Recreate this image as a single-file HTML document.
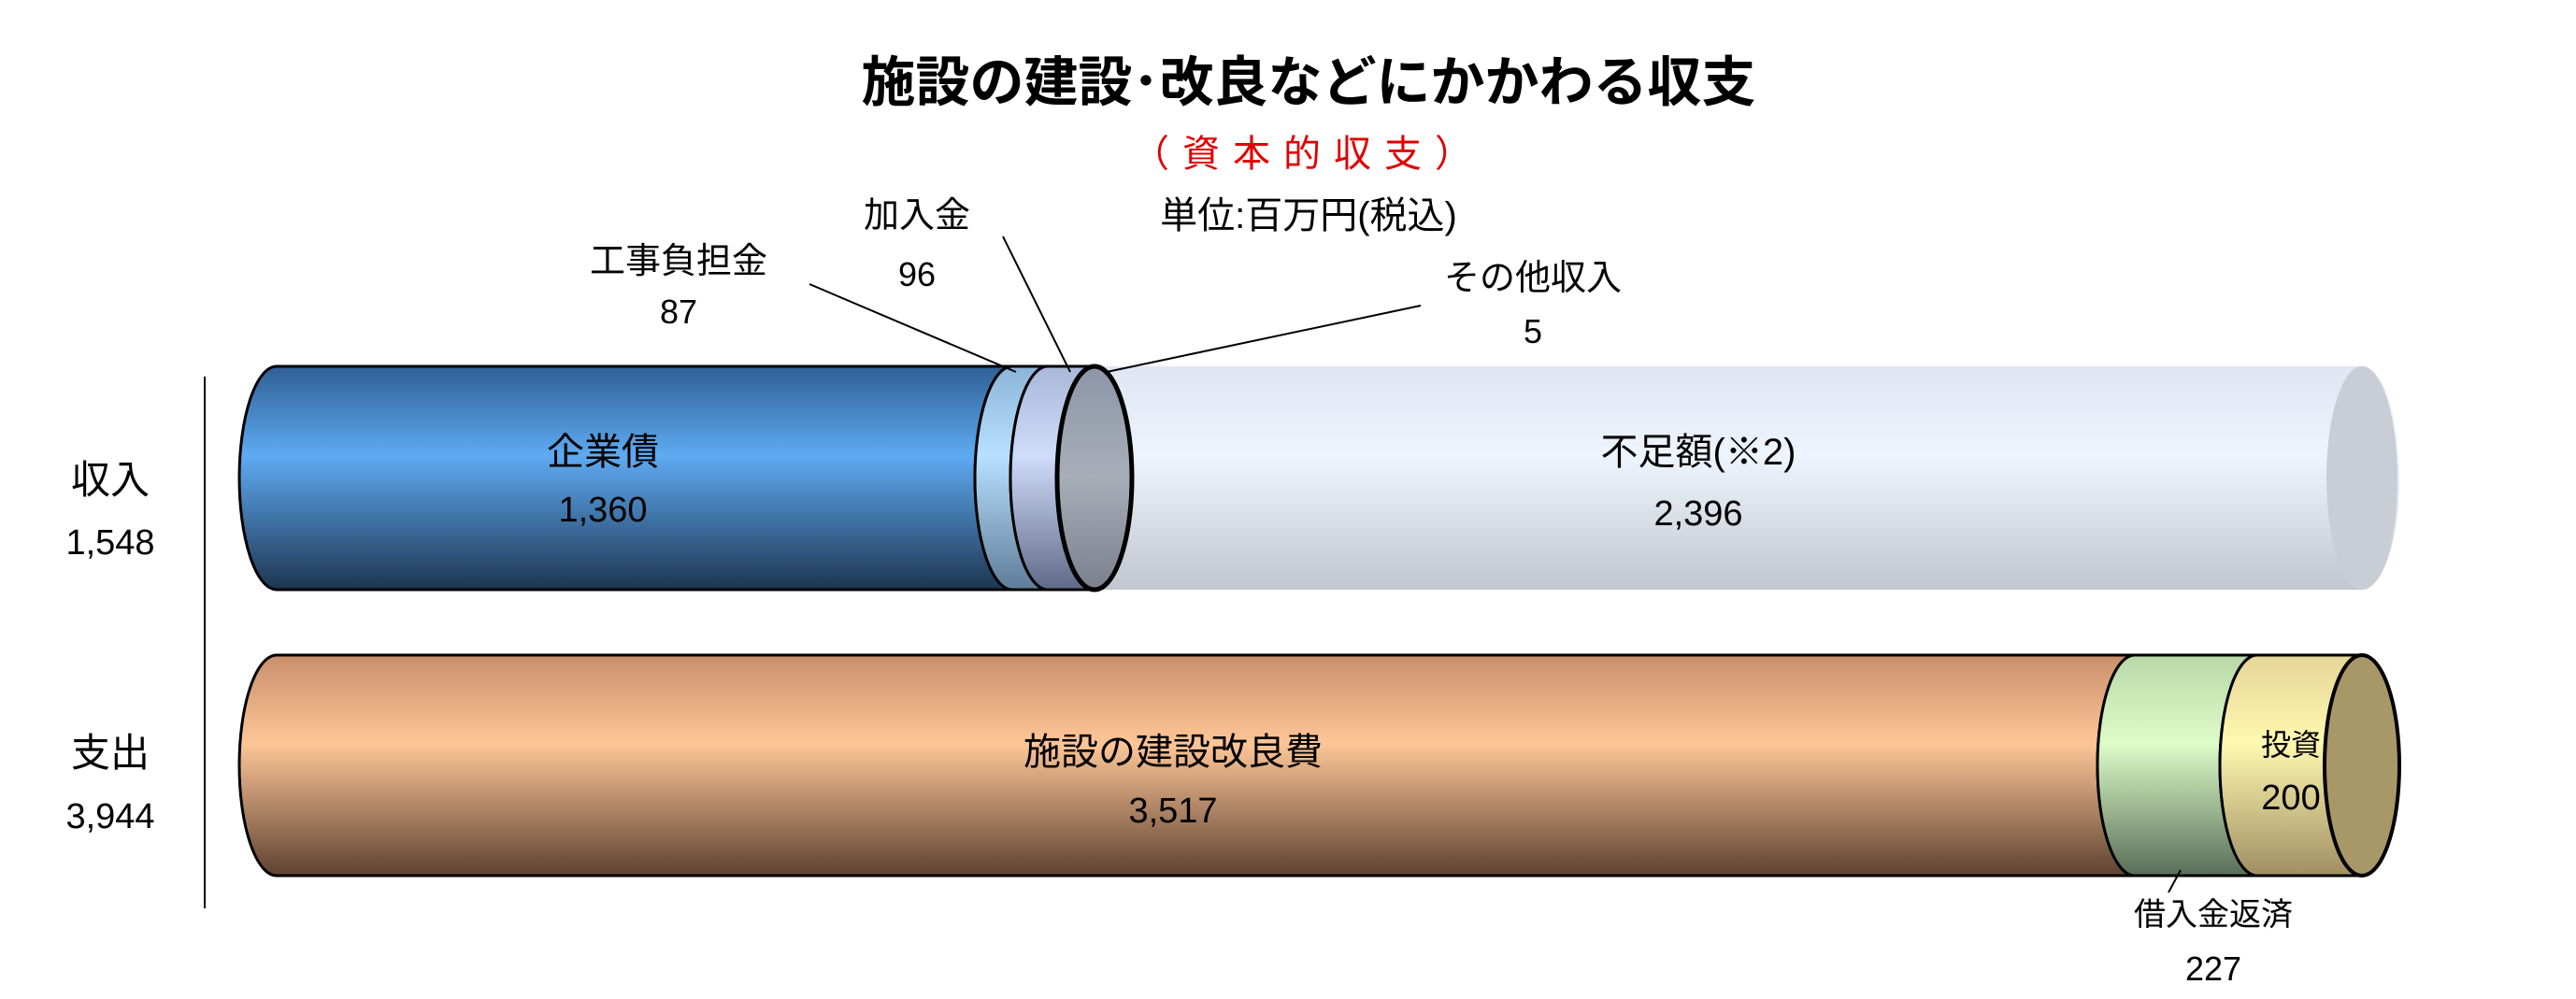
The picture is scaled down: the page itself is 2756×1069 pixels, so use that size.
<!DOCTYPE html>
<html><head><meta charset="utf-8"><style>
html,body{margin:0;padding:0;background:#fff;}
svg{display:block;}
text{font-family:"Liberation Sans","Noto Sans CJK JP",sans-serif;}
</style></head><body>
<svg width="2756" height="1069" viewBox="0 0 2756 1069" xmlns="http://www.w3.org/2000/svg">
<defs>
<linearGradient id="gBlue" x1="0" y1="0" x2="0" y2="1"><stop offset="0" stop-color="#2f5f94"/><stop offset="0.4" stop-color="#5eaaf2"/><stop offset="1" stop-color="#1d3550"/></linearGradient>
<linearGradient id="gLb" x1="0" y1="0" x2="0" y2="1"><stop offset="0" stop-color="#8cb4d8"/><stop offset="0.4" stop-color="#b8e0ff"/><stop offset="1" stop-color="#5f7c98"/></linearGradient>
<linearGradient id="gLav" x1="0" y1="0" x2="0" y2="1"><stop offset="0" stop-color="#a8b8d8"/><stop offset="0.4" stop-color="#cfdcfa"/><stop offset="1" stop-color="#5e6a88"/></linearGradient>
<linearGradient id="gGray" x1="0" y1="0" x2="0" y2="1"><stop offset="0" stop-color="#8c96a8"/><stop offset="0.5" stop-color="#a8aeb8"/><stop offset="1" stop-color="#7a808c"/></linearGradient>
<linearGradient id="gWhite" x1="0" y1="0" x2="0" y2="1"><stop offset="0" stop-color="#dfe6f2"/><stop offset="0.4" stop-color="#eef4fd"/><stop offset="1" stop-color="#c2c6ce"/></linearGradient>
<linearGradient id="gOr" x1="0" y1="0" x2="0" y2="1"><stop offset="0" stop-color="#c98f6c"/><stop offset="0.4" stop-color="#fec697"/><stop offset="1" stop-color="#5e4232"/></linearGradient>
<linearGradient id="gGr" x1="0" y1="0" x2="0" y2="1"><stop offset="0" stop-color="#b8d8a8"/><stop offset="0.4" stop-color="#ddfcc8"/><stop offset="1" stop-color="#586e58"/></linearGradient>
<linearGradient id="gYe" x1="0" y1="0" x2="0" y2="1"><stop offset="0" stop-color="#e6d598"/><stop offset="0.4" stop-color="#fff8b0"/><stop offset="1" stop-color="#a08e62"/></linearGradient>
</defs>

<text x="1400" y="108" font-size="58" font-weight="bold" text-anchor="middle" fill="#000">施設の建設･改良などにかかわる収支</text>
<text x="1400" y="178" font-size="40" text-anchor="middle" fill="#e00000" letter-spacing="14">（資本的収支）</text>
<text x="1400" y="244" font-size="40" text-anchor="middle" fill="#000">単位:百万円(税込)</text>

<line x1="219" y1="403" x2="219" y2="972" stroke="#000" stroke-width="2"/>
<text x="118" y="528" font-size="42" text-anchor="middle">収入</text>
<text x="118" y="593" font-size="38" text-anchor="middle">1,548</text>
<text x="118" y="820" font-size="42" text-anchor="middle">支出</text>
<text x="118" y="886" font-size="38" text-anchor="middle">3,944</text>

<g>
<path d="M1171,392 A40,119.5 0 0 0 1171,631 L2527,631 A40,119.5 0 0 0 2527,392 Z" fill="url(#gWhite)"/>
<ellipse cx="2527" cy="511.5" rx="38" ry="119.5" fill="#c9cdd6"/>
<path d="M296,392 A40,119.5 0 0 0 296,631 L1083,631 A40,119.5 0 0 1 1083,392 Z" fill="url(#gBlue)" stroke="#000" stroke-width="3"/>
<path d="M1083,392 A40,119.5 0 0 0 1083,631 L1121,631 A40,119.5 0 0 1 1121,392 Z" fill="url(#gLb)" stroke="#000" stroke-width="3"/>
<path d="M1121,392 A40,119.5 0 0 0 1121,631 L1171,631 A40,119.5 0 0 1 1171,392 Z" fill="url(#gLav)" stroke="#000" stroke-width="3"/>
<ellipse cx="1171" cy="511.5" rx="40" ry="119.5" fill="url(#gGray)" stroke="#000" stroke-width="5"/>
</g>
<text x="645" y="497" font-size="40" text-anchor="middle">企業債</text>
<text x="645" y="558" font-size="38" text-anchor="middle">1,360</text>
<text x="1817" y="497" font-size="40" text-anchor="middle">不足額(※2)</text>
<text x="1817" y="562" font-size="38" text-anchor="middle">2,396</text>

<g>
<path d="M296,701 A40,118 0 0 0 296,937 L2284,937 A40,118 0 0 1 2284,701 Z" fill="url(#gOr)" stroke="#000" stroke-width="3"/>
<path d="M2284,701 A40,118 0 0 0 2284,937 L2415,937 A40,118 0 0 1 2415,701 Z" fill="url(#gGr)" stroke="#000" stroke-width="3"/>
<path d="M2415,701 A40,118 0 0 0 2415,937 L2527,937 A40,118 0 0 1 2527,701 Z" fill="url(#gYe)" stroke="#000" stroke-width="3"/>
<ellipse cx="2527" cy="819" rx="40" ry="118" fill="#a89868" stroke="#000" stroke-width="4"/>
</g>
<text x="1255" y="818" font-size="40" text-anchor="middle">施設の建設改良費</text>
<text x="1255" y="880" font-size="38" text-anchor="middle">3,517</text>
<text x="2451" y="808" font-size="32" text-anchor="middle">投資</text>
<text x="2451" y="866" font-size="38" text-anchor="middle">200</text>

<text x="726" y="292" font-size="38" text-anchor="middle">工事負担金</text>
<text x="726" y="346" font-size="36" text-anchor="middle">87</text>
<line x1="866" y1="304" x2="1087" y2="398" stroke="#000" stroke-width="2"/>
<text x="981" y="243" font-size="38" text-anchor="middle">加入金</text>
<text x="981" y="306" font-size="36" text-anchor="middle">96</text>
<line x1="1073" y1="253" x2="1145" y2="398" stroke="#000" stroke-width="2"/>
<text x="1640" y="310" font-size="38" text-anchor="middle">その他収入</text>
<text x="1640" y="367" font-size="36" text-anchor="middle">5</text>
<line x1="1520" y1="327" x2="1184" y2="398" stroke="#000" stroke-width="2"/>
<text x="2368" y="990" font-size="34" text-anchor="middle">借入金返済</text>
<text x="2368" y="1049" font-size="36" text-anchor="middle">227</text>
<line x1="2320" y1="955" x2="2333" y2="931" stroke="#000" stroke-width="2"/>
</svg>
</body></html>
